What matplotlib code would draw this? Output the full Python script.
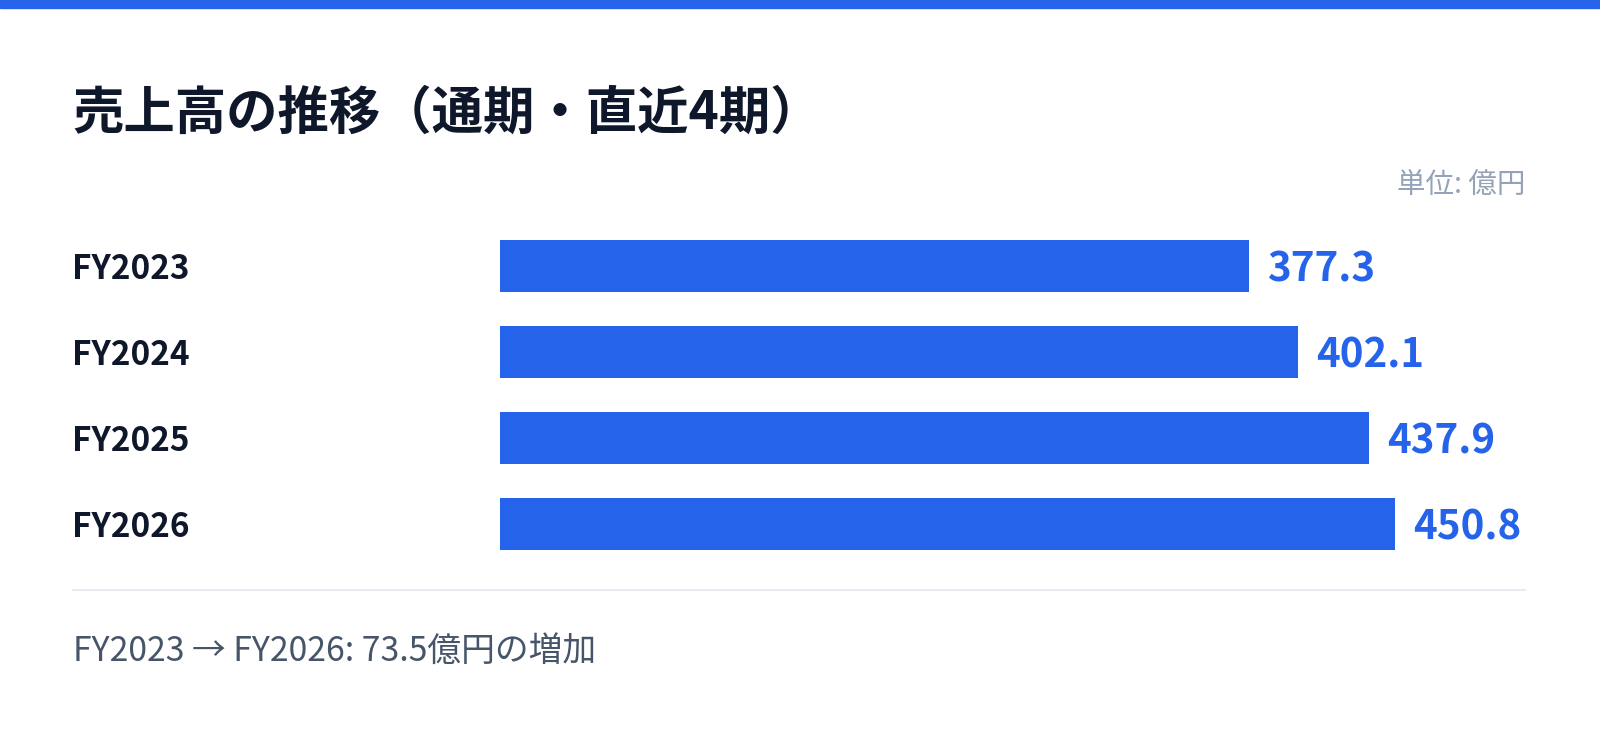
import matplotlib
matplotlib.use('Agg')
import matplotlib.pyplot as plt
from matplotlib.patches import Rectangle
from matplotlib.lines import Line2D

plt.rcParams['font.family'] = ['Noto Sans CJK JP', 'DejaVu Sans']

# データ（単位: 億円）
years = ['FY2023', 'FY2024', 'FY2025', 'FY2026']
sales = [377.3, 402.1, 437.9, 450.8]

title = '売上高の推移（通期・直近4期）'
unit_label = '単位: 億円'
footer = 'FY2023 → FY2026: 73.5億円の増加'

blue = '#2563eb'
W, H = 1600, 733
fig = plt.figure(figsize=(W / 100, H / 100), dpi=100)
fig.patch.set_facecolor('white')

# 上端の青いライン
fig.patches.append(Rectangle((0, 1 - 8 / H), 1, 8 / H, transform=fig.transFigure,
                             color=blue, zorder=0))

fig.text(72 / W, 1 - 113 / H, title, fontsize=37, fontweight='bold',
         color='#0f172a', va='center', ha='left')
fig.text(1525 / W, 1 - 186 / H, unit_label, fontsize=20.5, color='#94a3b8',
         va='center', ha='right')

ax = fig.add_axes([500 / W, 1 - 567 / H, 1025 / W, 344 / H])
ax.barh(range(len(years)), sales, height=0.6, color=blue)
ax.set_xlim(0, 1025 / 1.985)
ax.set_ylim(len(years) - 0.5, -0.5)
ax.set_yticks(range(len(years)))
ax.set_yticklabels(years, fontsize=24, fontweight='bold', color='#0f172a', ha='left',
                   va='center_baseline')
ax.tick_params(axis='y', length=0, pad=428 * 0.72)
ax.set_xticks([])
for s in ax.spines.values():
    s.set_visible(False)

for i, v in enumerate(sales):
    ax.annotate(f'{v:.1f}', xy=(v, i), xytext=(18 * 0.72, 0), textcoords='offset points',
                va='center_baseline', ha='left', fontsize=29, fontweight='bold', color=blue)

# 区切り線
fig.lines.append(Line2D([73 / W, 1525 / W], [1 - 590 / H, 1 - 590 / H],
                        transform=fig.transFigure, color='#e2e8f0', lw=1.2))

fig.text(73 / W, 1 - 651 / H, footer, fontsize=24.3, color='#475569',
         va='center', ha='left')

fig.savefig('out.png', dpi=100)
